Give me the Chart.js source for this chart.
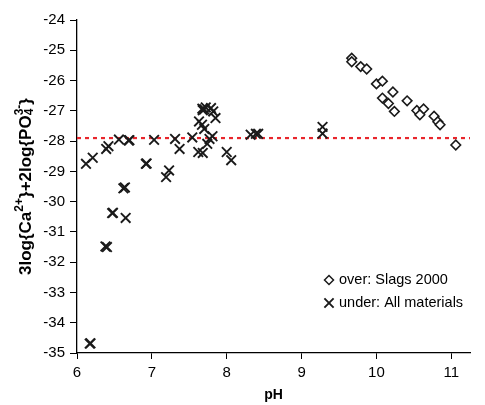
<!DOCTYPE html>
<html>
<head>
<meta charset="utf-8">
<script src="https://cdn.jsdelivr.net/npm/chart.js@4/dist/chart.umd.min.js"></script>
<style>
    html, body { margin: 0; padding: 0; background: #fff; }
    #wrap { width: 485px; height: 405px; position: relative; }
</style>
</head>
<body>
<div id="wrap"><canvas id="chart"></canvas></div>
<script>
// over: Slags 2000
const overPH = [9.67, 9.67, 9.79, 9.87, 10.00, 10.08, 10.22, 10.08, 10.16, 10.24,
                10.41, 10.54, 10.63, 10.58, 10.77, 10.82, 10.85, 11.06];
const overLog = [-25.26, -25.38, -25.54, -25.62, -26.11, -26.02, -26.38, -26.58, -26.76, -27.02,
                 -26.67, -26.99, -26.94, -27.13, -27.18, -27.36, -27.46, -28.13];

// under: All materials
const underPH = [6.12, 6.21, 6.39, 6.42, 6.56, 6.69, 6.70, 6.92, 6.93, 7.03,
                 7.19, 7.23, 6.62, 6.64, 6.47, 6.48, 6.65, 6.38, 6.40, 6.17,
                 6.18, 7.31, 7.37, 7.54, 7.62, 7.68, 7.74, 7.77, 7.81, 7.70,
                 7.67, 7.63, 7.85, 7.82, 7.79, 7.72, 7.675, 7.70, 7.68, 8.00,
                 8.06, 8.32, 8.39, 8.42, 9.28, 9.28];
const underLog = [-28.75, -28.55, -28.26, -28.17, -27.95, -27.98, -27.97, -28.75, -28.74, -27.96,
                  -29.19, -28.97, -29.56, -29.53, -30.38, -30.37, -30.54, -31.48, -31.50, -34.69,
                  -34.68, -27.93, -28.26, -27.88, -28.36, -28.39, -28.09, -27.93, -27.84, -27.60,
                  -27.46, -27.35, -27.24, -27.02, -26.91, -26.89, -26.93, -26.95, -26.98, -28.36,
                  -28.63, -27.79, -27.76, -27.76, -27.53, -27.75];

const refLevel = -27.9;
const xRange = [6, 11.25];
const yRange = [-35, -24];
const xTicks = [6, 7, 8, 9, 10, 11];

const FONT = "'Liberation Sans', Arial, sans-serif";

function toPoints(xs, ys) {
    return xs.map((x, i) => ({ x: x, y: ys[i] }));
}

// y title with real super/subscripts
const yTitlePlugin = {
    id: "yTitle",
    afterDraw(chart) {
        const ctx = chart.ctx;
        const area = chart.chartArea;
        const parts = [
            ["3log{Ca", 0], ["2+", -1], ["}+2log{PO", 0], ["4", 1], ["3-", -1], ["}", 0]
        ];
        const big = "bold 17px " + FONT;
        const small = "bold 12px " + FONT;
        ctx.save();
        let total = 0;
        for (let i = 0; i < parts.length; i++) {
            ctx.font = parts[i][1] === 0 ? big : small;
            // subscript 4 and superscript 3- share a column
            if (parts[i][0] === "4") continue;
            total += ctx.measureText(parts[i][0]).width;
        }
        ctx.translate(26, (area.top + area.bottom) / 2);
        ctx.rotate(-Math.PI / 2);
        ctx.fillStyle = "#000";
        ctx.textBaseline = "middle";
        let x = -total / 2;
        for (let i = 0; i < parts.length; i++) {
            const txt = parts[i][0];
            const shift = parts[i][1];
            ctx.font = shift === 0 ? big : small;
            const dy = shift < 0 ? -6 : (shift > 0 ? 4 : 0);
            ctx.fillText(txt, x, dy);
            if (txt !== "4") x += ctx.measureText(txt).width;
        }
        ctx.restore();
    }
};

// legend inside the plot, lower right
const innerLegendPlugin = {
    id: "innerLegend",
    afterDraw(chart) {
        const ctx = chart.ctx;
        const area = chart.chartArea;
        const lx = area.right - 141;
        const rows = [
            { text: "over: Slags 2000", style: "rectRot", radius: 4.5, y: area.bottom - 73 },
            { text: "under: All materials", style: "crossRot", radius: 6.5, y: area.bottom - 50 }
        ];
        ctx.save();
        ctx.font = "14.5px " + FONT;
        ctx.textBaseline = "middle";
        rows.forEach(r => {
            ctx.strokeStyle = "#1a1a1a";
            ctx.fillStyle = "#fff";
            ctx.lineWidth = r.style === "crossRot" ? 1.9 : 1.5;
            Chart.helpers.drawPoint(ctx, { pointStyle: r.style, radius: r.radius, rotation: 0, borderWidth: ctx.lineWidth }, lx, r.y);
            ctx.fillStyle = "#000";
            ctx.fillText(r.text, lx + 10, r.y);
        });
        ctx.restore();
    }
};

new Chart(document.getElementById("chart"), {
    type: "scatter",
    data: {
        datasets: [
            {
                label: "over: Slags 2000",
                data: toPoints(overPH, overLog),
                pointStyle: "rectRot",
                pointRadius: 4.8,
                pointBorderWidth: 1.6,
                borderColor: "#1a1a1a",
                backgroundColor: "#fff",
                order: 1
            },
            {
                label: "under: All materials",
                data: toPoints(underPH, underLog),
                pointStyle: "crossRot",
                pointRadius: 6.8,
                pointBorderWidth: 1.9,
                borderColor: "#1a1a1a",
                backgroundColor: "#1a1a1a",
                order: 2
            },
            {
                type: "line",
                label: "ref",
                data: xRange.map(x => ({ x: x, y: refLevel })),
                borderColor: "#e8262c",
                borderWidth: 2.2,
                borderDash: [4, 4],
                pointRadius: 0,
                fill: false,
                order: 3
            }
        ]
    },
    options: {
        responsive: true,
        maintainAspectRatio: false,
        animation: false,
        events: [],
        layout: {
            padding: { top: 20, right: 15, left: 0, bottom: 0 }
        },
        plugins: {
            legend: { display: false },
            tooltip: { enabled: false }
        },
        scales: {
            x: {
                type: "linear",
                min: xRange[0],
                max: xRange[1],
                afterBuildTicks: (scale) => {
                    scale.ticks = xTicks.map(v => ({ value: v }));
                },
                afterFit: (scale) => { scale.height = 52; },
                grid: {
                    drawOnChartArea: false,
                    drawTicks: true,
                    tickLength: 6,
                    color: "#000"
                },
                border: { display: true, color: "#000", width: 1.3 },
                ticks: {
                    padding: 5,
                    color: "#000",
                    font: { family: FONT, size: 15 }
                },
                title: {
                    display: true,
                    text: "pH",
                    color: "#000",
                    padding: { top: 0, bottom: 1 },
                    font: { family: FONT, size: 14, weight: "bold" }
                }
            },
            y: {
                type: "linear",
                min: yRange[0],
                max: yRange[1],
                afterFit: (scale) => { scale.width = 77; },
                grid: {
                    drawOnChartArea: false,
                    drawTicks: true,
                    tickLength: 7,
                    color: "#000"
                },
                border: { display: true, color: "#000", width: 1.3 },
                ticks: {
                    stepSize: 1,
                    padding: 5,
                    color: "#000",
                    font: { family: FONT, size: 15 }
                }
            }
        }
    },
    plugins: [yTitlePlugin, innerLegendPlugin]
});
</script>
</body>
</html>
